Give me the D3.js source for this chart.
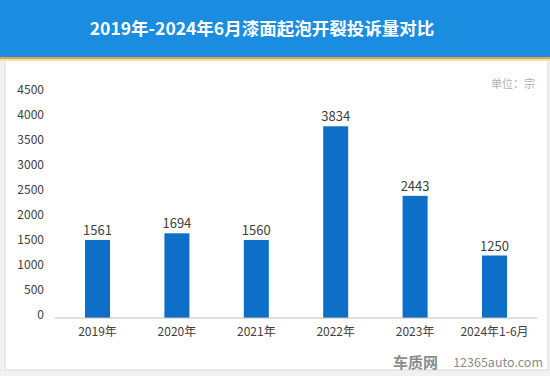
<!DOCTYPE html>
<html><head><meta charset="utf-8">
<script src="https://cdn.jsdelivr.net/npm/d3@7"></script>
<style>body{margin:0;background:#fff;}svg{display:block;font-family:"Microsoft YaHei","Noto Sans CJK SC",sans-serif;}</style>
</head><body><svg id="c" width="550" height="376"></svg>
<script>
const categories = ["2019年","2020年","2021年","2022年","2023年","2024年1-6月"];
const values = [1561,1694,1560,3834,2443,1250];
const yTicks = [0,500,1000,1500,2000,2500,3000,3500,4000,4500];
const titleText = "2019年-2024年6月漆面起泡开裂投诉量对比";
const unitText = "单位：宗";

const svg = d3.select("#c");
// backgrounds
svg.append("rect").attr("x",0).attr("y",0).attr("width",550).attr("height",376).attr("fill","#f1f1f1");
svg.append("rect").attr("x",5).attr("y",60).attr("width",543).attr("height",310).attr("fill","#fff").attr("stroke","#d9d9d9").attr("stroke-width",1);
svg.append("rect").attr("x",0).attr("y",0).attr("width",550).attr("height",57).attr("fill","#1a8de0");
svg.append("rect").attr("x",0).attr("y",57).attr("width",550).attr("height",2).attr("fill","#e3a449");
svg.append("rect").attr("x",0).attr("y",59).attr("width",550).attr("height",2).attr("fill","#f6dcb0");

svg.append("text").attr("x",262).attr("y",35).attr("text-anchor","middle")
  .attr("fill","#fff").attr("font-size",17.5).attr("font-weight","bold").text(titleText);
svg.append("text").attr("x",535).attr("y",88).attr("text-anchor","end")
  .attr("fill","#b0b0b0").attr("font-size",11).text(unitText);

const x = d3.scaleBand().domain(categories).range([58,534]).paddingInner(0.685).paddingOuter(0.34);
const y = d3.scaleLinear().domain([0,4500]).range([318,93]);

// y axis labels
const ya = svg.append("g").attr("transform","translate(44,-3.5)")
  .call(d3.axisLeft(y).tickValues(yTicks).tickSize(0).tickPadding(0).tickFormat(d3.format("d")));
ya.select(".domain").remove();
ya.selectAll("text").attr("font-size",12).attr("fill","#404040").attr("font-family","'Microsoft YaHei','Noto Sans CJK SC',sans-serif");

// bars
svg.selectAll("rect.bar").data(values).join("rect").attr("class","bar")
  .attr("x",(d,i)=>x(categories[i])).attr("width",x.bandwidth())
  .attr("y",d=>y(d)).attr("height",d=>y(0)-y(d)).attr("fill","#0e6fc8");

// value labels
svg.selectAll("text.val").data(values).join("text").attr("class","val")
  .attr("x",(d,i)=>x(categories[i])+x.bandwidth()/2).attr("y",d=>y(d)-5)
  .attr("text-anchor","middle").attr("font-size",13).attr("fill","#404040").text(d=>d);

// x axis
const xa = svg.append("g").attr("transform","translate(0,318)")
  .call(d3.axisBottom(x).tickSize(0).tickPadding(9));
xa.select(".domain").attr("d","M55,0H537").attr("stroke","#bfbfbf");
xa.selectAll("text").attr("font-size",12).attr("fill","#404040").attr("font-family","'Microsoft YaHei','Noto Sans CJK SC',sans-serif");

// watermark
svg.append("text").attr("x",393).attr("y",368).attr("fill","#8c8c8c").attr("font-size",15).attr("font-weight","bold").text("车质网");
svg.append("text").attr("x",543).attr("y",367).attr("text-anchor","end").attr("fill","#8c8c8c").attr("font-size",12.5).text("12365auto.com");
</script></body></html>
